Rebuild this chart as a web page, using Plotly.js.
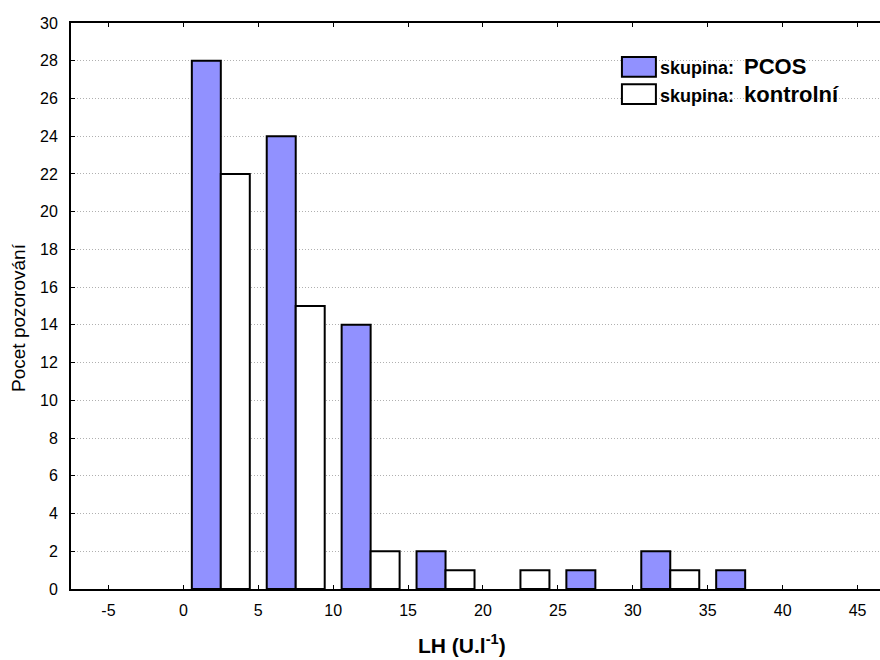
<!DOCTYPE html>
<html>
<head>
<meta charset="utf-8">
<script src="https://cdn.plot.ly/plotly-3.0.1.min.js"></script>
<style>html,body{margin:0;padding:0;background:#fff;}#chart{width:880px;height:660px;}</style>
</head>
<body>
<div id="chart"></div>
<script>
// Bin centres of LH histogram (bin width 5)
const binCenters = [2.5, 7.5, 12.5, 17.5, 22.5, 27.5, 32.5, 37.5];
const pcosCounts = [28, 24, 14, 2, 0, 1, 2, 1];
const kontrolCounts = [22, 15, 2, 1, 1, 0, 1, 0];
const groupPrefix = 'skupina:';
const groupNames = ['PCOS', 'kontrolní'];
const groupColors = ['#9191ff', '#ffffff'];
const xTickVals = [-5, 0, 5, 10, 15, 20, 25, 30, 35, 40, 45];
const xTickText = ['-5', '0', '5', '10', '15', '20', '25', '30', '35', '40', '45'];
const yTickVals = [0, 2, 4, 6, 8, 10, 12, 14, 16, 18, 20, 22, 24, 26, 28, 30];
const xTitle = 'LH (U.l<sup>-1</sup>)';
const yTitle = 'Pocet pozorování';

const FONT = 'Arial, "Liberation Sans", sans-serif';

const traces = [pcosCounts, kontrolCounts].map((vals, i) => ({
  type: 'bar',
  x: binCenters,
  y: vals.map(v => (v === 0 ? null : v)),
  name: groupPrefix + ' ' + groupNames[i],
  marker: {color: groupColors[i], line: {color: '#000', width: 2}},
  showlegend: false,
  hoverinfo: 'x+y'
}));

// manual legend (large swatches as in the reference)
const shapes = [];
const annotations = [];
const legX0 = 0.681, legX1 = 0.723;
const rows = [[0.940, 0.905], [0.892, 0.857]];
groupNames.forEach((n, i) => {
  shapes.push({type: 'rect', xref: 'paper', yref: 'paper', x0: legX0, x1: legX1, y0: rows[i][1], y1: rows[i][0],
    fillcolor: groupColors[i], line: {color: '#000', width: 2}, layer: 'above'});
  annotations.push({xref: 'paper', yref: 'paper', x: legX1 + 0.003, y: (rows[i][0] + rows[i][1]) / 2,
    xanchor: 'left', yanchor: 'middle', showarrow: false,
    text: '<b><span style="font-size:18px">' + groupPrefix + '&nbsp; </span>' + n + '</b>',
    font: {family: FONT, size: 22, color: '#000'}});
});

// axis titles placed as in the reference
annotations.push({xref: 'paper', yref: 'paper', x: 0.483, y: -0.098, xanchor: 'center', yanchor: 'middle',
  showarrow: false, text: '<b>' + xTitle + '</b>', font: {family: FONT, size: 21, color: '#000'}});
annotations.push({xref: 'paper', yref: 'paper', x: -0.0643, y: 0.4806, xanchor: 'center', yanchor: 'middle',
  showarrow: false, textangle: -90, text: yTitle, font: {family: FONT, size: 19, color: '#000'}});

const layout = {
  width: 880, height: 660,
  margin: {l: 71, r: 0, t: 23, b: 71, pad: 0},
  paper_bgcolor: '#fff', plot_bgcolor: '#fff',
  barmode: 'group', bargap: 0.226, bargroupgap: 0,
  font: {family: FONT, size: 16, color: '#000'},
  xaxis: {
    range: [-7.5, 46.5], tickvals: xTickVals, ticktext: xTickText,
    ticks: 'inside', ticklen: 4, tickwidth: 1, tickcolor: '#000',
    showline: true, linecolor: '#000', linewidth: 2, mirror: 'ticks', zeroline: false, showgrid: false,
    ticklabelstandoff: 6, tickfont: {family: FONT, size: 16}
  },
  yaxis: {
    range: [0, 30], tickvals: yTickVals, ticks: 'inside', ticklen: 4, tickwidth: 1, tickcolor: '#000',
    showline: true, linecolor: '#000', linewidth: 2, zeroline: false,
    showgrid: true, gridcolor: '#b0b0b0', griddash: '1px,2px', gridwidth: 1,
    ticklabelstandoff: 8, tickfont: {family: FONT, size: 16}
  },
  shapes: shapes,
  annotations: annotations
};

Plotly.newPlot('chart', traces, layout, {staticPlot: true, displayModeBar: false});
</script>
</body>
</html>
